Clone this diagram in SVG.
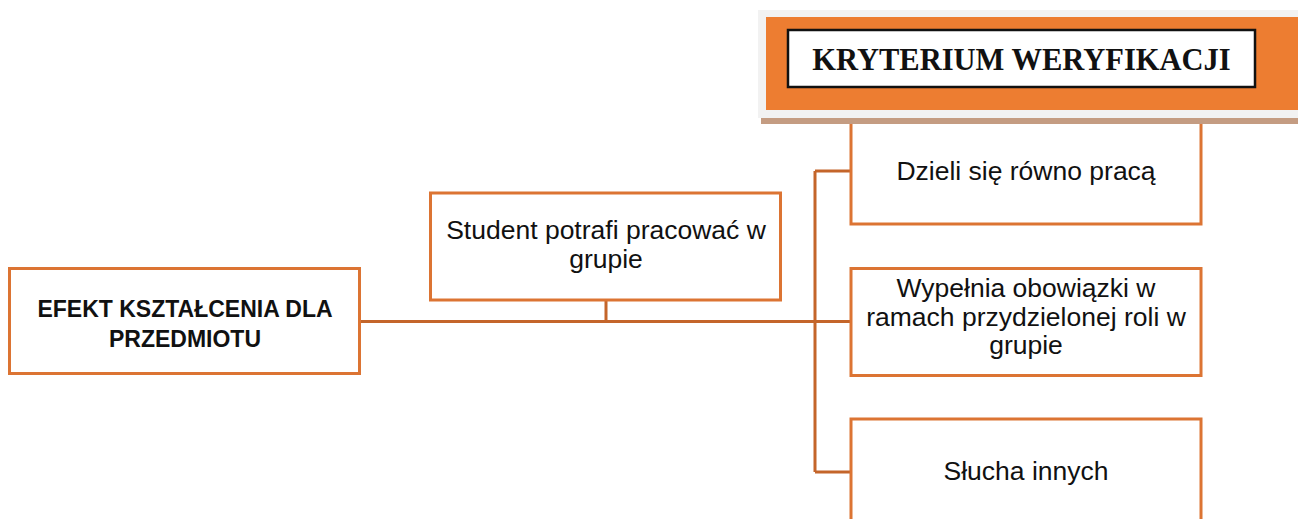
<svg xmlns="http://www.w3.org/2000/svg" width="1298" height="519" viewBox="0 0 1298 519">
<style>
.box{fill:#fff;stroke:#dc7433;stroke-width:3}
.conn{fill:none;stroke:#c4652a;stroke-width:3}
.t{font-family:"Liberation Sans",Arial,sans-serif;font-size:26.5px;fill:#111;text-anchor:middle}
.b{font-weight:bold;font-size:23px}
.h{font-family:"Liberation Serif","Times New Roman",serif;font-weight:bold;font-size:30.5px;fill:#111;text-anchor:middle}
</style>
<rect width="1298" height="519" fill="#fff"/>
<g id="connectors">
<path class="conn" d="M360 321.5H815M606 300V321.5M815 171V472M815 171H851M815 321.5H851M815 472H851"/>
</g>
<g id="node-dzieli">
<rect class="box" x="851" y="110" width="350" height="114"/>
<text class="t" x="1026" y="180">Dzieli się równo pracą</text>
</g>
<g id="node-header">
<rect x="758" y="10" width="545" height="108" fill="#f2f2f2"/>
<rect x="761" y="118" width="542" height="6" fill="#c49c82"/>
<rect x="766" y="17" width="537" height="93" fill="#ed7d31"/>
<rect x="788" y="30" width="467" height="57" fill="#fff" stroke="#111" stroke-width="2.5"/>
<text class="h" x="1021.5" y="70">KRYTERIUM WERYFIKACJI</text>
</g>
<g id="node-efekt">
<rect class="box" x="9.5" y="268.5" width="350" height="105"/>
<text class="t b" x="185" y="317">EFEKT KSZTAŁCENIA DLA</text>
<text class="t b" x="185" y="347">PRZEDMIOTU</text>
</g>
<g id="node-student">
<rect class="box" x="430.5" y="193" width="350" height="107"/>
<text class="t" x="606" y="239">Student potrafi pracować w</text>
<text class="t" x="606" y="268">grupie</text>
</g>
<g id="node-wypelnia">
<rect class="box" x="851" y="268.5" width="350" height="107"/>
<text class="t" x="1026" y="297">Wypełnia obowiązki w</text>
<text class="t" x="1026" y="326">ramach przydzielonej roli w</text>
<text class="t" x="1026" y="354">grupie</text>
</g>
<g id="node-slucha">
<rect class="box" x="851" y="419" width="350" height="110"/>
<text class="t" x="1026" y="480">Słucha innych</text>
</g>
</svg>
